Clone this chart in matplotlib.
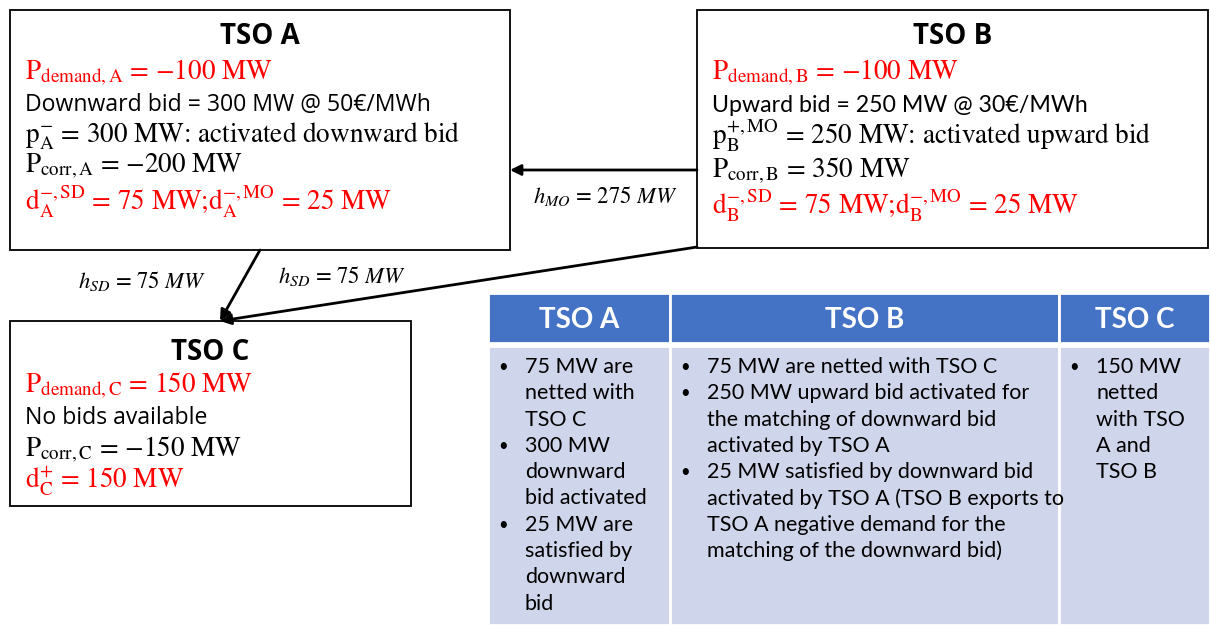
import matplotlib
matplotlib.use('Agg')
import matplotlib.pyplot as plt
from matplotlib.patches import Rectangle

plt.rcParams['mathtext.fontset'] = 'stix'

RED = '#FF0000'
HEAD = '#4472C4'
BODY = '#CFD5EA'

# node boxes: name, (x0, y0, x1, y1) in pixels
nodes = ['TSO A', 'TSO B', 'TSO C']
node_boxes = [(10, 10, 510, 250), (697, 10, 1208, 248), (10, 321, 411, 506)]

# lines inside each node: (text, colour, kind)
lines_a = [(r'$\mathrm{P_{demand,A}}$ = −100 MW', RED, 'serif'),
           ('Downward bid = 300 MW @ 50€/MWh', 'black', 'sans'),
           (r'$\mathrm{p_A^{-}}$ = 300 MW: activated downward bid', 'black', 'serif'),
           (r'$\mathrm{P_{corr,A}}$ = −200 MW', 'black', 'serif'),
           (r'$\mathrm{d_A^{-,SD}}$ = 75 MW;$\mathrm{d_A^{-,MO}}$ = 25 MW', RED, 'serif')]
lines_b = [(r'$\mathrm{P_{demand,B}}$ = −100 MW', RED, 'serif'),
           ('Upward bid = 250 MW @ 30€/MWh', 'black', 'calibri'),
           (r'$\mathrm{p_B^{+,MO}}$ = 250 MW: activated upward bid', 'black', 'serif'),
           (r'$\mathrm{P_{corr,B}}$ = 350 MW', 'black', 'serif'),
           (r'$\mathrm{d_B^{-,SD}}$ = 75 MW;$\mathrm{d_B^{-,MO}}$ = 25 MW', RED, 'serif')]
lines_c = [(r'$\mathrm{P_{demand,C}}$ = 150 MW', RED, 'serif'),
           ('No bids available', 'black', 'sans'),
           (r'$\mathrm{P_{corr,C}}$ = −150 MW', 'black', 'serif'),
           (r'$\mathrm{d_C^{+}}$ = 150 MW', RED, 'serif')]
node_lines = [lines_a, lines_b, lines_c]
line_y = [[73, 105, 136, 166, 202], [73, 105, 136, 171, 206], [386, 418, 450, 482]]
title_y = [37, 37, 352]

# flows: (from, to, label, label position)
flows = [((697, 170), (510, 170), r'$h_{MO}$ = 275 $MW$', (605, 196)),
         ((260, 250), (220, 321), r'$h_{SD}$ = 75 $MW$', (142, 281)),
         ((697, 247), (220, 321), r'$h_{SD}$ = 75 $MW$', (342, 276))]

# summary table
col_edges = [488, 670, 1059, 1210]
table_heads = ['TSO A', 'TSO B', 'TSO C']
col_a = [('75 MW are', True), ('netted with', False), ('TSO C', False),
         ('300 MW', True), ('downward', False), ('bid activated', False),
         ('25 MW are', True), ('satisfied by', False), ('downward', False), ('bid', False)]
col_b = [('75 MW are netted with TSO C', True),
         ('250 MW upward bid activated for', True),
         ('the matching of downward bid', False),
         ('activated by TSO A', False),
         ('25 MW satisfied by downward bid', True),
         ('activated by TSO A (TSO B exports to', False),
         ('TSO A negative demand for the', False),
         ('matching of the downward bid)', False)]
col_c = [('150 MW', True), ('netted', False), ('with TSO', False),
         ('A and', False), ('TSO B', False)]
table_cols = [col_a, col_b, col_c]

fig = plt.figure(figsize=(12.1, 6.25), dpi=100)
ax = fig.add_axes([0, 0, 1, 1])
ax.set_xlim(0, 1210)
ax.set_ylim(625, 0)
ax.axis('off')

for name, (x0, y0, x1, y1), lines, ys, ty in zip(nodes, node_boxes, node_lines, line_y, title_y):
    ax.add_patch(Rectangle((x0, y0), x1 - x0, y1 - y0, fill=False, ec='black', lw=1.3))
    ax.text((x0 + x1) / 2, ty, name, ha='center', va='center', fontsize=20,
            fontweight='bold', family='Open Sans')
    for (txt, col, kind), y in zip(lines, ys):
        if kind == 'serif':
            ax.text(x0 + 15, y, txt, color=col, fontsize=19.5, va='center', ha='left',
                    family='STIXGeneral')
        elif kind == 'sans':
            ax.text(x0 + 15, y, txt, color=col, fontsize=16.6, va='center', ha='left',
                    family='Open Sans')
        else:
            ax.text(x0 + 15, y, txt, color=col, fontsize=16.7, va='center', ha='left',
                    family='Lato')

for p0, p1, lab, (lx, ly) in flows:
    ax.annotate('', xy=p1, xytext=p0,
                arrowprops=dict(arrowstyle='-|>', color='black', lw=2,
                                mutation_scale=16, shrinkA=0, shrinkB=0))
    ax.text(lx, ly, lab, fontsize=16.3, ha='center', va='center', family='STIXGeneral')

# table
for i, head in enumerate(table_heads):
    x0, x1 = col_edges[i], col_edges[i + 1]
    ax.add_patch(Rectangle((x0, 293), x1 - x0, 50, fc=HEAD, ec='white', lw=2))
    ax.add_patch(Rectangle((x0, 346), x1 - x0, 279, fc=BODY, ec='white', lw=2))
    ax.text((x0 + x1) / 2, 320, head, color='white', fontsize=20, fontweight='bold',
            ha='center', va='center', family='Lato')
    for k, (txt, bullet) in enumerate(table_cols[i]):
        y = 367 + k * 26.3
        if bullet:
            ax.text(x0 + 15, y, '•', fontsize=12, ha='center', va='center', family='Lato')
        ax.text(x0 + 37, y, txt, fontsize=15.5, ha='left', va='center', family='Lato')

fig.savefig('out.png', dpi=100)
